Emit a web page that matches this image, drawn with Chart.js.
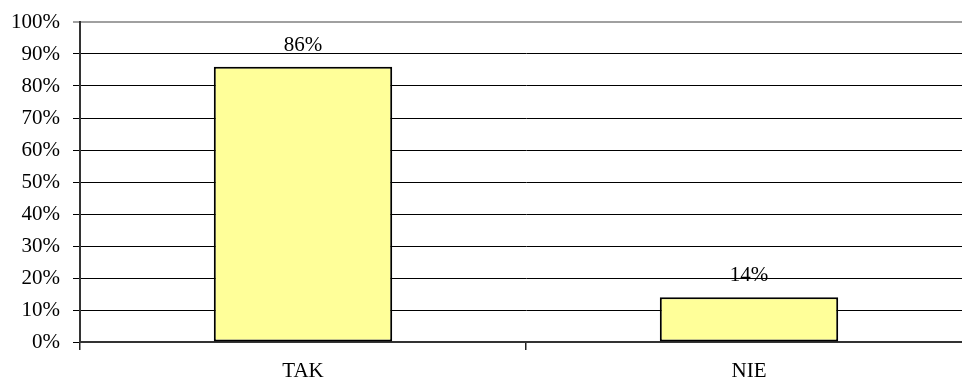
<!DOCTYPE html>
<html>
<head>
<meta charset="utf-8">
<script src="https://cdn.jsdelivr.net/npm/chart.js@4/dist/chart.umd.min.js"></script>
<style>
    html, body { margin: 0; padding: 0; background: #fff; overflow: hidden; }
    #wrap { position: relative; width: 975px; height: 383px; }
</style>
</head>
<body>
<div id="wrap"><canvas id="answers"></canvas></div>
<script>
var categories = ["TAK", "NIE"];
var shares = [86, 14];
var yTicks = [0, 10, 20, 30, 40, 50, 60, 70, 80, 90, 100];

var serif = '"Liberation Serif", "Times New Roman", serif';

// writes "86%" etc. above each bar
var valueLabels = {
    id: "valueLabels",
    afterDatasetsDraw: function (chart) {
        var ctx = chart.ctx;
        ctx.save();
        ctx.font = "21px " + serif;
        ctx.fillStyle = "#000";
        ctx.textAlign = "center";
        ctx.textBaseline = "alphabetic";
        chart.getDatasetMeta(0).data.forEach(function (bar, i) {
            ctx.fillText(shares[i] + "%", bar.x, bar.y - 16);
        });
        ctx.restore();
    }
};

new Chart("answers", {
    type: "bar",
    data: {
        labels: categories,
        datasets: [{
            data: shares,
            backgroundColor: "#FFFF99",
            borderColor: "#000",
            borderWidth: 2,
            borderSkipped: false,
            barPercentage: 0.4,
            categoryPercentage: 1.0
        }]
    },
    options: {
        responsive: true,
        maintainAspectRatio: false,
        animation: false,
        layout: { padding: { top: 22, right: 3, left: 0, bottom: 0 } },
        plugins: {
            legend: { display: false },
            tooltip: { enabled: false }
        },
        scales: {
            x: {
                afterFit: function (scale) { scale.height = 41; },
                grid: {
                    offset: true,
                    drawOnChartArea: false,
                    drawTicks: true,
                    tickLength: 8,
                    color: "#222",
                    lineWidth: 1.5
                },
                border: { color: "#333", width: 2 },
                ticks: {
                    color: "#000",
                    padding: 9,
                    font: { family: serif, size: 21 }
                }
            },
            y: {
                min: 0,
                max: 100,
                afterFit: function (scale) {
                    scale.width = 80;
                    scale.paddingTop = 0;
                    scale.paddingBottom = 0;
                },
                afterBuildTicks: function (scale) {
                    scale.ticks = yTicks.map(function (v) { return { value: v }; });
                },
                grid: {
                    tickLength: 7,
                    color: function (c) {
                        return c.tick && c.tick.value === 100 ? "#a0a0a0" : "#000";
                    },
                    lineWidth: function (c) {
                        return c.tick && c.tick.value === 100 ? 2 : 1;
                    }
                },
                border: { color: "#333", width: 2 },
                ticks: {
                    color: "#000",
                    padding: 13,
                    font: { family: serif, size: 21 },
                    callback: function (v) { return v + "%"; }
                }
            }
        }
    },
    plugins: [valueLabels]
});
</script>
</body>
</html>
